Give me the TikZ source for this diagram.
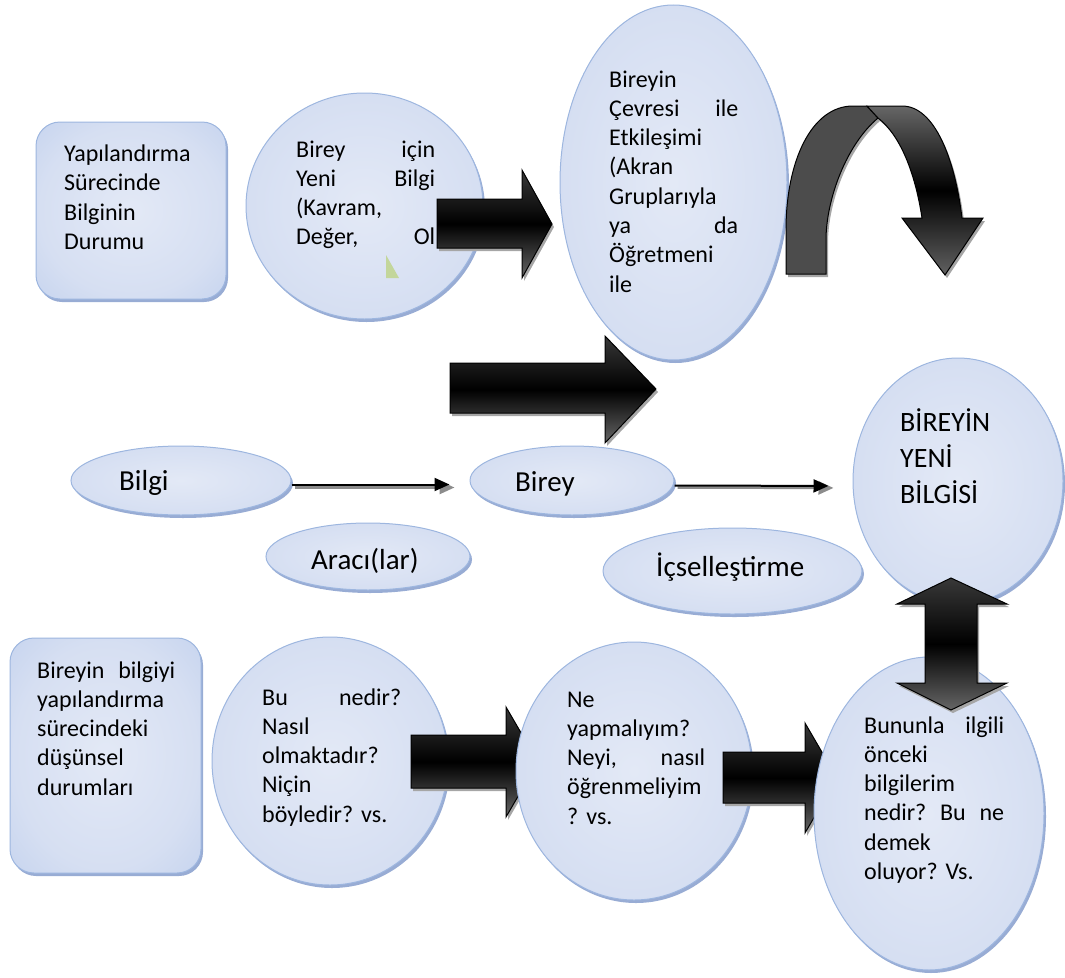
\documentclass[tikz,border=0pt]{standalone}
\usepackage{fontspec}
\setmainfont{Carlito}
\usetikzlibrary{positioning,shapes.geometric,shadows,arrows.meta}
\definecolor{kenar}{HTML}{9DB6DF}
\definecolor{golge}{HTML}{98ACD4}
\definecolor{acikmavi}{HTML}{E3E9F6}
\definecolor{aramavi}{HTML}{D6DFF2}
\definecolor{koyumavi}{HTML}{B4C7EA}
\definecolor{yesil}{HTML}{C3D69B}
\pgfdeclareradialshading{mavi}{\pgfpoint{0bp}{0bp}}{color(0bp)=(acikmavi); color(24bp)=(aramavi); color(50bp)=(koyumavi)}
\newcommand{\bosluk}{\hskip 0pt plus 1filll\relax}
\frenchspacing
\tikzset{
  kabarcik/.style={ellipse, draw=kenar, line width=1pt, shading=mavi, inner sep=0pt,
    drop shadow={shadow xshift=2pt, shadow yshift=-3pt, fill=golge, opacity=1}},
  kutu/.style={rectangle, rounded corners=24pt, draw=kenar, line width=1pt, shading=mavi, inner sep=0pt,
    drop shadow={shadow xshift=2pt, shadow yshift=-3pt, fill=golge, opacity=1}},
  yazi/.style={inner sep=0pt, anchor=base west, align=left, font=\fontsize{24}{29.3}\selectfont},
  buyukyazi/.style={inner sep=0pt, anchor=base west, font=\fontsize{29}{35}\selectfont},
  blok/.style={draw=black, line width=1pt, top color=black!78, bottom color=black!60, middle color=black,
    drop shadow={shadow xshift=2pt, shadow yshift=-3pt, fill=black!35, opacity=1}},
  ince/.style={line width=2pt, -{Triangle[length=15pt,width=13pt]}},
  incegolge/.style={line width=2.5pt, black!45, -{Triangle[length=15pt,width=13pt]}},
}

\begin{document}
\begin{tikzpicture}[x=1pt,y=-1pt]
\useasboundingbox (0,0) rectangle (1065,977);

% ust sira
\node (kutu1) [kutu, minimum width=190pt, minimum height=177pt] at (131,210.5) {};
\node (t1) [yazi, text width=140pt] at (64,161.5) {Yapılandırma\\Sürecinde\\Bilginin\\Durumu};

\node (yeni) [kabarcik, minimum width=237pt, minimum height=226pt] at (364.5,206) {};
\node (t2) [yazi, text width=139pt] at (296,157) {Birey\bosluk için\\Yeni\bosluk Bilgi\\(Kavram,\\Değer,\bosluk Ol};
\fill[yesil] (386,255) -- (386,278) -- (399,278) -- cycle;

\draw[blok] (437,199) -- (522,199) -- (522,170) -- (552,224) -- (522,278) -- (522,248) -- (437,248) -- cycle;

\node (cevre) [kabarcik, minimum width=227pt, minimum height=355pt] at (673.5,182.5) {};
\node (t3) [yazi, text width=129pt] at (609,87) {Bireyin\\Çevresi\bosluk ile\\Etkileşimi\\(Akran\\Gruplarıyla\\ya\bosluk da\\Öğretmeni\\ile};

% donen ok
\fill[black!35, shift={(2pt,-3pt)}] (786,274) -- (786,230) .. controls (786,160) and (812,106) .. (853,106)
  -- (902,106) .. controls (935,106) and (955,160) .. (962,218) -- (983,218) -- (945,275) -- (902,218) -- (922,218)
  .. controls (915,172) and (900,135) .. (878,118) .. controls (846,145) and (826,200) .. (826,240) -- (826,274) -- cycle;
\draw[line width=1pt, fill=black!70] (786,274) -- (786,230) .. controls (786,160) and (812,106) .. (853,106)
  -- (867,106) -- (878,118) .. controls (846,145) and (826,200) .. (826,240) -- (826,274) -- cycle;
\draw[line width=1pt, top color=black!60, bottom color=black!62, middle color=black] (867,106) -- (902,106)
  .. controls (935,106) and (955,160) .. (962,218) -- (983,218) -- (945,275) -- (902,218) -- (922,218)
  .. controls (915,172) and (900,135) .. (878,118) -- cycle;

\draw[blok] (450,363) -- (605,363) -- (605,336) -- (656,389) -- (605,443) -- (605,413) -- (450,413) -- cycle;

% orta sira
\node (bilgi) [kabarcik, minimum width=220pt, minimum height=69pt] at (181,480.5) {};
\node (t4) [buyukyazi] at (119,490.7) {Bilgi};
\node (birey) [kabarcik, minimum width=204pt, minimum height=69pt] at (572,480.5) {};
\node (t5) [buyukyazi] at (515,491) {Birey};
\node (araci) [kabarcik, minimum width=204pt, minimum height=67pt] at (368,556.5) {};
\node (t6) [buyukyazi] at (311,569) {Aracı(lar)};
\node (icsel) [kabarcik, minimum width=259pt, minimum height=86pt] at (732.5,571) {};
\node (t7) [buyukyazi] at (656,576) {İçselleştirme};
\node (bireyin) [kabarcik, minimum width=210pt, minimum height=246pt] at (958,481) {};
\node (t8) [inner sep=0pt, anchor=base west, align=left, text width=110pt, font=\fontsize{28}{36}\selectfont] at (900,431) {BİREYİN\\YENİ\\BİLGİSİ};

\draw[incegolge, shorten >=18pt] ([shift={(3pt,-7pt)}]bilgi.east) -- ([shift={(3pt,-7pt)}]birey.west);
\draw[ince, shorten >=20pt] ([yshift=-4pt]bilgi.east) -- ([yshift=-4pt]birey.west);
\draw[incegolge, shorten >=22pt] ([shift={(3pt,-7pt)}]birey.east) -- ([shift={(3pt,-7pt)}]bireyin.west);
\draw[ince, shorten >=24pt] ([yshift=-5pt]birey.east) -- ([yshift=-5pt]bireyin.west);

% alt sira
\node (kutu2) [kutu, minimum width=191pt, minimum height=235pt] at (105.5,755.5) {};
\node (t9) [yazi, text width=138pt] at (37,678) {Bireyin\bosluk bilgiyi\\yapılandırma\\sürecindeki\\düşünsel\\durumları};

\node (bu) [kabarcik, minimum width=236pt, minimum height=248pt] at (330,761) {};
\node (t10) [yazi, text width=139pt] at (262,705) {Bu\bosluk nedir?\\Nasıl\\olmaktadır?\\Niçin\\böyledir? vs.};

\draw[blok] (411,735) -- (506,735) -- (506,707) -- (538,762) -- (506,817) -- (506,788) -- (411,788) -- cycle;

\node (ne) [kabarcik, minimum width=236pt, minimum height=258pt] at (634,771) {};
\node (t11) [yazi, text width=138pt] at (567,707) {Ne\\yapmalıyım?\\Neyi,\bosluk nasıl\\öğrenmeliyim\\? vs.};

\draw[blok] (723,752) -- (805,752) -- (805,723) -- (837,778) -- (805,833) -- (805,803) -- (723,803) -- cycle;

\node (bununla) [kabarcik, minimum width=230pt, minimum height=313pt] at (929,813.5) {};
\node (t12) [yazi, text width=140pt] at (864,733) {Bununla\bosluk ilgili\\önceki\\bilgilerim\\nedir?\bosluk Bu\bosluk ne\\demek\\oluyor? Vs.};

\draw[blok] (951,578) -- (1007,604) -- (977,604) -- (977,683) -- (1007,683) -- (951,710) -- (897,683)
  -- (925,683) -- (925,604) -- (897,604) -- cycle;

\end{tikzpicture}
\end{document}
